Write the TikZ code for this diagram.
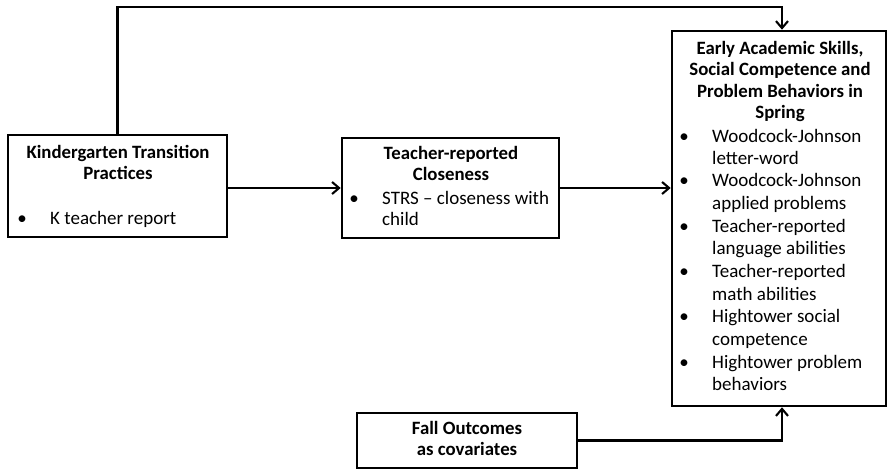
\documentclass[tikz,border=0pt]{standalone}
\usepackage{fontspec}
\setmainfont{Carlito}
\usetikzlibrary{arrows.meta}
\begin{document}
\begin{tikzpicture}[x=1pt,y=-1pt,
  box/.style={draw,line width=2.6pt,inner sep=0pt},
  arr/.style={line width=2.1pt,-{Straight Barb[length=7pt,width=12pt]}},
  ttl/.style={font=\bfseries\fontsize{18.8}{22}\selectfont,inner sep=0pt,anchor=mid},
  txt/.style={font=\fontsize{19}{22}\selectfont,inner sep=0pt,anchor=mid west},
  bul/.style={font=\fontsize{19}{22}\selectfont,inner sep=0pt,anchor=mid}]
\useasboundingbox (0,0) rectangle (889,470);
% boxes
\node[box,minimum width=219pt,minimum height=102pt] (K) at (117.5,186) {};
\node[box,minimum width=217pt,minimum height=100pt] (T) at (450.5,188) {};
\node[box,minimum width=214pt,minimum height=375pt] (E) at (779,218.5) {};
\node[box,minimum width=220pt,minimum height=55pt] (F) at (467,440.5) {};
% K text
\node[ttl] (k1) at (118,156) {Kindergarten Transition};
\node[ttl] (k2) at (118,177) {Practices};
\node[bul] (kb) at (22,222) {•};
\node[txt] (k3) at (50,222) {K teacher report};
% T text
\node[ttl] (t1) at (451,157) {Teacher-reported};
\node[ttl] (t2) at (451,178) {Closeness};
\node[bul] (tb) at (354,202) {•};
\node[txt] (t3) at (382,202) {STRS -- closeness with};
\node[txt] (t4) at (382,223) {child};
% F text
\node[ttl] (f1) at (467,432) {Fall Outcomes};
\node[ttl] (f2) at (467,453) {as covariates};
% E text
\node[ttl] (e1) at (780,52) {Early Academic Skills,};
\node[ttl] (e2) at (780,73.5) {Social Competence and};
\node[ttl] (e3) at (780,95) {Problem Behaviors in};
\node[ttl] (e4) at (780,116.5) {Spring};
\foreach \y/\t [count=\i] in {140/Woodcock-Johnson, 162/letter-word, 184.5/Woodcock-Johnson, 207/applied problems, 230/Teacher-reported, 252.5/language abilities, 275.5/Teacher-reported, 298/math abilities, 320.5/Hightower social, 343/competence, 366/Hightower problem, 388.5/behaviors}
  \node[txt] (el\i) at (712,\y) {\t};
\foreach \y [count=\i] in {140,184.5,230,275.5,320.5,366}
  \node[bul] (eb\i) at (684,\y) {•};
% connectors
\coordinate (topturn) at (782,7);
\draw[arr] (K.north) |- (topturn) -- (topturn |- E.north);
\draw[arr] (K.east |- T.west) -- (T.west);
\draw[arr] (T.east) -- (T.east -| E.west);
\draw[arr] (F.east) -| (topturn |- E.south);
\end{tikzpicture}
\end{document}
